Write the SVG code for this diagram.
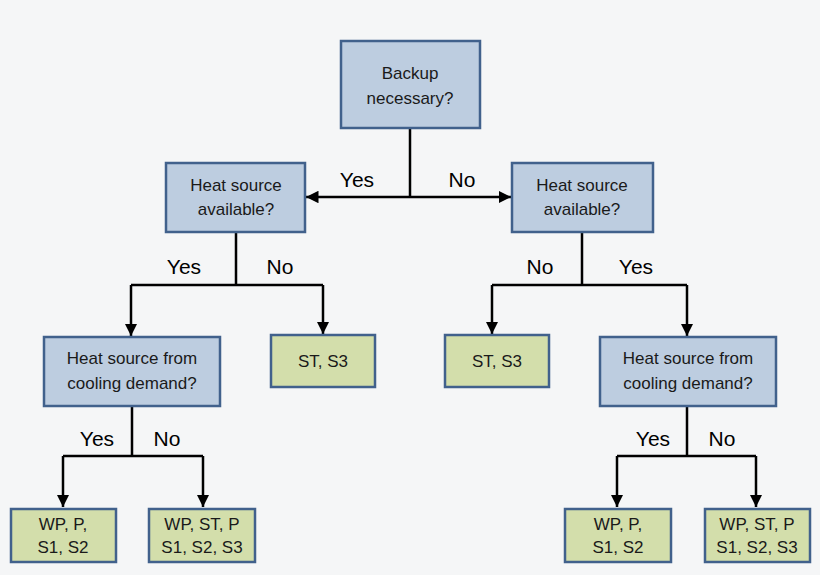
<svg xmlns="http://www.w3.org/2000/svg" width="820" height="575" viewBox="0 0 820 575">
<style>
.b{fill:#bdcde0;stroke:#41618c;stroke-width:2.5}
.g{fill:#d3deab;stroke:#41618c;stroke-width:2.5}
text{font-family:"Liberation Sans",Arial,sans-serif;font-size:17px;fill:#1a1a1a;text-anchor:middle}
.l{font-size:21px;fill:#000}
.c{fill:none;stroke:#000;stroke-width:2.5}
</style>
<defs><marker id="a" viewBox="0 0 10 10" refX="10" refY="5" markerWidth="5" markerHeight="5" markerUnits="strokeWidth" orient="auto"><path d="M0,0L10,5L0,10z" fill="#000"/></marker></defs>
<rect width="820" height="575" fill="#f5f6f7"/>
<g id="connectors" class="c">
<path d="M410,128V197"/>
<path d="M410,197H306" marker-end="url(#a)"/>
<path d="M410,197H511" marker-end="url(#a)"/>
<path d="M236,232V285M131,285H323"/>
<path d="M131,285V336" marker-end="url(#a)"/>
<path d="M323,285V334" marker-end="url(#a)"/>
<path d="M582,232V285M492,285H687"/>
<path d="M492,285V334" marker-end="url(#a)"/>
<path d="M687,285V336" marker-end="url(#a)"/>
<path d="M132,406V456M63,456H203"/>
<path d="M63,456V507" marker-end="url(#a)"/>
<path d="M203,456V507" marker-end="url(#a)"/>
<path d="M687,406V456M617,456H756"/>
<path d="M617,456V507" marker-end="url(#a)"/>
<path d="M756,456V507" marker-end="url(#a)"/>
</g>
<g class="l">
<text class="l" x="357" y="187">Yes</text><text class="l" x="462" y="187">No</text>
<text class="l" x="184" y="274">Yes</text><text class="l" x="280" y="274">No</text>
<text class="l" x="540" y="274">No</text><text class="l" x="636" y="274">Yes</text>
<text class="l" x="97" y="446">Yes</text><text class="l" x="167" y="446">No</text>
<text class="l" x="653" y="446">Yes</text><text class="l" x="722" y="446">No</text>
</g>
<g id="n1"><rect class="b" x="341" y="41" width="139" height="87"/><text x="410" y="79">Backup</text><text x="410" y="104">necessary?</text></g>
<g id="n2"><rect class="b" x="166" y="163" width="139" height="69"/><text x="236" y="191">Heat source</text><text x="236" y="215">available?</text></g>
<g id="n3"><rect class="b" x="512" y="163" width="141" height="69"/><text x="582" y="191">Heat source</text><text x="582" y="215">available?</text></g>
<g id="n4"><rect class="b" x="44" y="337" width="176" height="69"/><text x="132" y="364">Heat source from</text><text x="132" y="389">cooling demand?</text></g>
<g id="n5"><rect class="g" x="271" y="335" width="104" height="52"/><text x="323" y="367">ST, S3</text></g>
<g id="n6"><rect class="g" x="445" y="335" width="104" height="52"/><text x="497" y="367">ST, S3</text></g>
<g id="n7"><rect class="b" x="600" y="337" width="176" height="69"/><text x="688" y="364">Heat source from</text><text x="688" y="389">cooling demand?</text></g>
<g id="n8"><rect class="g" x="11" y="509" width="105" height="53"/><text x="63" y="530">WP, P,</text><text x="63" y="553">S1, S2</text></g>
<g id="n9"><rect class="g" x="149" y="509" width="106" height="53"/><text x="202" y="530">WP, ST, P</text><text x="202" y="553">S1, S2, S3</text></g>
<g id="n10"><rect class="g" x="565" y="509" width="106" height="53"/><text x="618" y="530">WP, P,</text><text x="618" y="553">S1, S2</text></g>
<g id="n11"><rect class="g" x="705" y="509" width="105" height="53"/><text x="757" y="530">WP, ST, P</text><text x="757" y="553">S1, S2, S3</text></g>
</svg>
